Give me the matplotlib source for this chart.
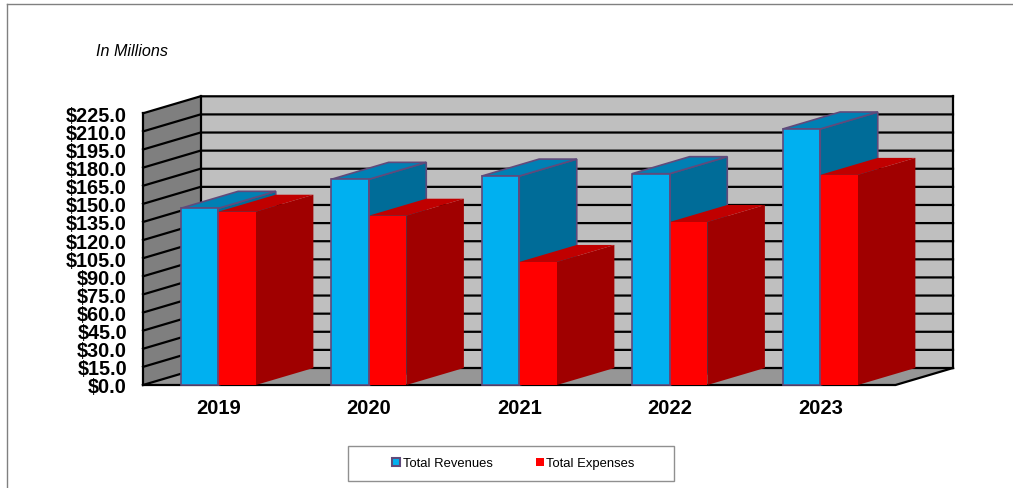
import numpy as np
import matplotlib
matplotlib.use('Agg')
import matplotlib.pyplot as plt
from matplotlib.patches import Patch, Rectangle
from matplotlib.lines import Line2D

years = ['2019', '2020', '2021', '2022', '2023']
revenues = [146.3, 170.3, 173.0, 175.0, 212.0]
expenses = [143.5, 140.2, 101.9, 135.0, 174.0]
y_ticks = list(range(0, 226, 15))

W, H = 1013, 489
plt.rcParams['font.family'] = ['Liberation Sans', 'DejaVu Sans']

fig = plt.figure(figsize=(W / 100, H / 100), dpi=100)
# front plane of the fake 3d box
ax = fig.add_axes([143 / W, (H - 386) / H, 752.5 / W, 271.7 / H])
ax.set_xlim(0, 5)
ax.set_ylim(0, 225)

# depth of the box in data units
dx = 57.5 / 150.5
dy = 17 / 1.2076
bar_w = 0.25


def poly(xs, ys, color, edge='none', lw=0, z=1):
    ax.fill(xs, ys, facecolor=color, edgecolor=edge, linewidth=lw, clip_on=False,
            zorder=z, joinstyle='miter')


def bar3d(x, val, front, side, top, edge, lw):
    poly([x + bar_w, x + bar_w + dx, x + bar_w + dx, x + bar_w],
         [0, dy, val + dy, val], side, edge, lw, 5)
    poly([x, x + dx, x + bar_w + dx, x + bar_w],
         [val, val + dy, val + dy, val], top, edge, lw, 5)
    poly([x, x + bar_w, x + bar_w, x], [0, 0, val, val], front, edge, lw, 5)


# walls and floor
poly([dx, 5 + dx, 5 + dx, dx], [dy, dy, 225 + dy, 225 + dy], '#BFBFBF', z=1)
poly([0, dx, dx, 0], [0, dy, 225 + dy, 225], '#7F7F7F', z=1)
poly([0, 5, 5 + dx, dx], [0, 0, dy, dy], '#969696', z=1)

for t in y_ticks:
    ax.plot([0, dx, 5 + dx], [t, t + dy, t + dy], color='black', lw=1.6, clip_on=False,
            zorder=2, solid_joinstyle='miter')
ax.plot([0, 0], [0, 225], color='black', lw=1.6, clip_on=False, zorder=3)
ax.plot([dx, dx], [dy, 225 + dy], color='black', lw=1.6, clip_on=False, zorder=3)
ax.plot([5 + dx, 5 + dx], [dy, 225 + dy], color='black', lw=1.6, clip_on=False, zorder=3)
ax.plot([0, 5, 5 + dx], [0, 0, dy], color='black', lw=1.6, clip_on=False, zorder=3,
        solid_joinstyle='miter')

# bars, blue then red so red covers the blue side
for i in range(len(years)):
    bar3d(i + 0.25, revenues[i], '#00B0F0', '#006C98', '#0080B4', '#604A7B', 1.2)
    bar3d(i + 0.5, expenses[i], '#FF0000', '#A00000', '#C00000', 'none', 0)
    # purple seam on the left of the red face
    ax.plot([i + 0.5, i + 0.5], [0, revenues[i]], color='#604A7B', lw=1.2, zorder=6)

ax.set_xticks(np.arange(len(years)) + 0.5)
ax.set_xticklabels(years, fontsize=14.5, fontweight='bold')
ax.set_yticks(y_ticks)
ax.set_yticklabels(['$%.1f' % t for t in y_ticks], fontsize=14.3, fontweight='bold')
ax.tick_params(axis='x', length=0, pad=9.5)
ax.tick_params(axis='y', length=0, pad=11.5)
for s in ax.spines.values():
    s.set_visible(False)
ax.patch.set_visible(False)

fig.text(96 / W, 1 - 52 / H, 'In Millions', fontsize=11.6, style='italic', va='center')

# outer border, only top and left show
fig.add_artist(Line2D([7 / W, 7 / W], [0, 1 - 5 / H], color='#808080', lw=1))
fig.add_artist(Line2D([7 / W, 1], [1 - 5 / H, 1 - 5 / H], color='#808080', lw=1))

# legend box
fig.add_artist(Rectangle((348 / W, 1 - 481.5 / H), 326 / W, 35 / H, facecolor='white',
                         edgecolor='#909090', lw=1, transform=fig.transFigure))
handles = [Patch(facecolor='#00B0F0', edgecolor='#604A7B', lw=1.5),
           Patch(facecolor='#FF0000', edgecolor='none')]
fig.legend(handles, ['Total Revenues', 'Total Expenses'], ncol=2, frameon=False,
           loc='center', bbox_to_anchor=(513.5 / W, 1 - 464.5 / H), fontsize=9.4,
           handlelength=0.6, handleheight=0.6, handletextpad=0.2, columnspacing=3.3)

fig.savefig('out.png', dpi=100)
